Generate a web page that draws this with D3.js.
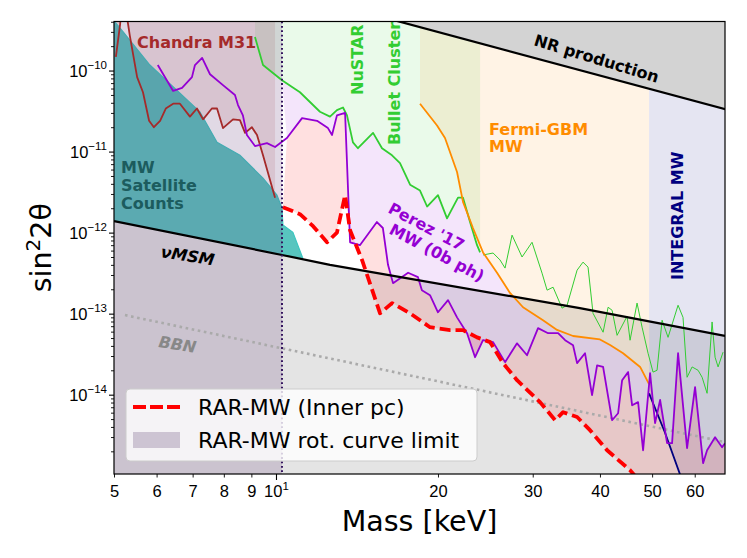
<!DOCTYPE html>
<html>
<head>
	<meta charset="utf-8">
	<title>Sterile neutrino limits</title>
	<style type="text/css">
		body { margin: 0; background: #fff; }
		svg { font-family: 'DejaVu Sans', sans-serif; }
	</style>
	<script src="https://d3js.org/d3.v7.min.js"></script>
</head>
<body>
	<svg width="747" height="558"></svg>
	<script type="text/javascript">
		// ---- data (mass in keV, mixing sin^2 2theta) ----
		var nrMass = [15, 70];
		var nrSin = [5.0e-10, 3.2e-11];

		var nuMsmMass = [5.0, 10.26, 12.6, 36.7, 68.3];
		var nuMsmSin = [1.39e-12, 5.3e-13, 4.0e-13, 1.17e-13, 5.3e-14];

		var bbnMass = [5.24, 68.3];
		var bbnSin = [9.6e-14, 2.6e-15];

		var satMass = [5.0, 5.2, 5.83, 7.22, 7.77, 8.57, 9.46, 10.04, 10.26, 10.30, 10.75, 11.22];
		var satSin = [4.1e-10, 3.0e-10, 1.17e-10, 3.1e-11, 1.3e-11, 9.0e-12, 4.7e-12, 2.9e-12, 2.0e-12, 1.24e-12, 1.01e-12, 4.8e-13];

		var chandraMass = [5.04, 5.13, 5.15, 5.28, 5.35, 5.52, 5.66, 5.81, 5.93, 6.09, 6.24, 6.44, 6.63, 6.92, 7.13, 7.32, 7.60, 7.77, 7.97, 8.32, 8.57, 8.76, 9.02, 9.22, 9.46, 9.96];
		var chandraSin = [1.47e-10, 3.6e-10, 4.8e-10, 4.8e-10, 2.7e-10, 8.3e-11, 5.4e-11, 2.4e-11, 2.0e-11, 2.4e-11, 3.4e-11, 3.9e-11, 3.9e-11, 2.7e-11, 3.4e-11, 2.5e-11, 3.4e-11, 3.4e-11, 1.95e-11, 2.5e-11, 2.45e-11, 1.7e-11, 2.0e-11, 1.6e-11, 9.0e-12, 2.7e-12];

		var bulletMass = [9.14, 9.46, 10.26, 11.08, 12.07, 12.6, 12.98, 13.32, 13.55, 13.9, 14.2, 15.15, 15.74, 16.43, 17.0, 17.75, 18.52, 19.09, 20.0, 20.79, 21.79, 22.26, 22.94, 23.64, 23.95];
		var bulletSin = [2.6e-10, 1.17e-10, 7.6e-11, 5.4e-11, 3.1e-11, 2.7e-11, 3.25e-11, 3.5e-11, 2.8e-11, 1.3e-11, 1.1e-11, 1.7e-11, 1.1e-11, 9.0e-12, 7.2e-12, 3.9e-12, 3.3e-12, 2.1e-12, 2.9e-12, 1.5e-12, 2.7e-12, 2.7e-12, 1.35e-12, 7.0e-13, 5.7e-13];

		var nustarMass = [24.25, 25.32, 26.08, 26.65, 27.46, 28.66, 29.91, 31.22, 31.9, 32.73, 34.01, 34.75, 36.27, 37.2, 38.01, 38.83, 40.54, 41.42, 42.13, 43.04, 44.92, 45.5, 46.88, 47.9, 49.14, 50.2, 51.07, 52.18, 53.53, 55.87, 57.07, 58.07, 59.33, 60.87, 61.93, 63.26, 64.63, 65.46, 66.31, 67.74];
		var nustarSin = [5.3e-13, 5.6e-13, 4.6e-13, 3.65e-13, 9.3e-13, 5.0e-13, 7.6e-13, 3.16e-13, 1.95e-13, 2.12e-13, 1.17e-13, 1.27e-13, 3.44e-13, 4.32e-13, 3.75e-13, 1.01e-13, 5.9e-14, 1.2e-13, 1.1e-13, 5.4e-14, 9.3e-14, 4.7e-14, 1.35e-13, 6.8e-14, 3.25e-14, 1.9e-14, 2.0e-14, 8.3e-14, 5.1e-14, 1.27e-13, 9.0e-14, 1.64e-14, 2.2e-14, 2.0e-14, 1.64e-14, 1.04e-14, 7.9e-14, 2.9e-14, 2.2e-14, 3.35e-14];

		var fermiMass = [18.52, 19.92, 20.61, 21.7, 22.26, 23.23, 24.25, 25.75, 27.22, 28.78, 31.35, 33.29, 35.65, 40.0, 41.77, 44.16, 47.5, 49.35];
		var fermiSin = [3.9e-11, 2.1e-11, 1.47e-11, 5.6e-12, 2.4e-12, 1.14e-12, 5.7e-13, 3.2e-13, 1.8e-13, 1.2e-13, 8.3e-14, 6.3e-14, 5.3e-14, 4.8e-14, 4.1e-14, 3.25e-14, 2.2e-14, 1.35e-14];

		var integralMass = [49.35, 52.8, 57.3];
		var integralSin = [1.04e-14, 3.44e-15, 7.6e-16];

		var perezMass = [6.03, 6.44, 6.69, 6.98, 7.07, 7.29, 7.54, 7.97, 8.39, 8.5, 8.68, 8.83, 9.14, 9.62, 9.96, 10.48, 11.18, 11.92, 12.49, 12.71, 12.98, 13.44, 13.73, 14.32, 15.4, 15.8, 16.15, 16.5, 17.6, 18.36, 18.67, 19.33, 20.0, 20.88, 21.7, 22.65, 23.44, 24.25, 25.32, 26.65, 28.05, 29.28, 30.69, 32.04, 33.44, 34.46, 35.65, 36.27, 37.52, 38.67, 39.51, 40.54, 42.13, 43.23, 43.98, 45.12, 45.9, 47.09, 48.11, 49.57, 50.64, 51.74, 53.31, 54.46, 55.87, 58.07, 60.09, 62.19, 63.26, 65.46, 67.45, 68.3];
		var perezSin = [1.17e-10, 5.6e-11, 6.1e-11, 8.3e-11, 1.17e-10, 1.43e-10, 9.0e-11, 6.6e-11, 5.0e-11, 3.75e-11, 2.8e-11, 1.6e-11, 1.17e-11, 1.27e-11, 1.14e-11, 1.47e-11, 2.59e-11, 2.4e-11, 1.95e-11, 1.6e-11, 2.8e-11, 3.0e-11, 7.6e-13, 7.0e-13, 1.35e-12, 1.14e-12, 4.0e-13, 2.38e-13, 3.2e-13, 2.82e-13, 1.95e-13, 1.69e-13, 1.04e-13, 1.47e-13, 9.0e-14, 5.74e-14, 2.9e-14, 4.71e-14, 4.45e-14, 2.52e-14, 4.3e-14, 3.07e-14, 6.62e-14, 5.74e-14, 5.74e-14, 4.71e-14, 4.08e-14, 2.45e-14, 3.25e-14, 9.9e-15, 2.3e-14, 2.2e-14, 4.84e-15, 5.9e-15, 1.51e-14, 1.9e-14, 7.4e-15, 8.1e-15, 2.06e-15, 1.84e-14, 4.45e-15, 8.6e-15, 2.52e-15, 2.52e-15, 3.25e-14, 2.19e-15, 1.24e-14, 1.43e-15, 2.06e-15, 2.99e-15, 2.25e-15, 2.52e-15];

		var rarMass = [10.3, 11.08, 11.72, 12.44, 12.98, 13.44, 13.73, 14.45, 15.61, 16.43, 17.75, 19.33, 21.06, 22.26, 23.64, 25.0, 26.42, 28.05, 30.95, 33.01, 34.16, 36.27, 38.33, 41.24, 45.5, 46.88];
		var rarSin = [2.06e-12, 1.69e-12, 1.2e-12, 7.6e-13, 1.0e-12, 2.9e-12, 1.07e-12, 4.6e-13, 1.01e-13, 1.35e-13, 1.01e-13, 6.8e-14, 6.26e-14, 6.26e-14, 5.1e-14, 4.45e-14, 2.45e-14, 1.51e-14, 8.1e-15, 4.84e-15, 6.08e-15, 5.3e-15, 3.65e-15, 2.06e-15, 1.17e-15, 9.3e-16];

		// rotation-curve limit on the mass
		var rarRotLimit = 10.26;

		var xTicks = [5, 6, 7, 8, 9, 10, 20, 30, 40, 50, 60];
		var yTicks = [1e-14, 1e-13, 1e-12, 1e-11, 1e-10];
		var yExp = [-14, -13, -12, -11, -10];

		// ---- setup ----
		var svg = d3.select('svg');
		var pL = 114, pR = 725, pT = 21.5, pB = 474;

		var x = d3.scaleLog().domain([5, 68.3]).range([pL, pR]);
		var y = d3.scaleLog().domain([1.05e-15, 4.03e-10]).range([pB, pT]);

		var xHi = x.domain()[1] * 1.1;
		var yLo = y.domain()[0] / 3;
		var yHi = y.domain()[1] * 3;

		function pts(ms, ss) { return ms.map((d, i) => [d, ss[i]]); }
		var line = d3.line().x(d => x(d[0])).y(d => y(d[1]));
		function poly(p) { return line(p) + 'Z'; }

		svg.append('clipPath').attr('id', 'plotclip')
			.append('rect').attr('x', pL).attr('y', pT)
			.attr('width', pR - pL).attr('height', pB - pT);

		var plot = svg.append('g').attr('clip-path', 'url(#plotclip)');

		var nr = pts(nrMass, nrSin);
		var numsm = pts(nuMsmMass, nuMsmSin);
		var bbn = pts(bbnMass, bbnSin);
		var sat = pts(satMass, satSin);
		var chandra = pts(chandraMass, chandraSin);
		var bullet = pts(bulletMass, bulletSin);
		var nustar = pts(nustarMass, nustarSin);
		var fermi = pts(fermiMass, fermiSin);
		var integral = pts(integralMass, integralSin);
		var perez = pts(perezMass, perezSin);
		var rar = pts(rarMass, rarSin);

		// region below nuMSM
		plot.append('path')
			.attr('d', poly(numsm.concat([[numsm[numsm.length - 1][0], yLo], [numsm[0][0], yLo]])))
			.attr('fill', '#e4e4e4');

		// Chandra M31 excluded band
		plot.append('path')
			.attr('d', poly(chandra.concat([[chandraMass[chandraMass.length - 1], yHi], [chandraMass[0], yHi]])))
			.attr('fill', 'rgba(165,42,42,0.12)');

		// Bullet cluster band
		plot.append('path')
			.attr('d', poly(bullet.concat([[bulletMass[bulletMass.length - 1], yHi], [bulletMass[0], yHi]])))
			.attr('fill', 'rgba(50,205,50,0.1)');

		// Fermi-GBM band
		plot.append('path')
			.attr('d', poly(fermi.concat([[fermiMass[fermiMass.length - 1], yHi], [fermiMass[0], yHi]])))
			.attr('fill', 'rgba(255,140,0,0.1)');

		// INTEGRAL band
		plot.append('path')
			.attr('d', poly([[integralMass[0], yHi]].concat(integral, [[xHi, yLo], [xHi, yHi]])))
			.attr('fill', 'rgba(0,0,128,0.1)');

		// Perez '17 band, between its curve and the other limits
		var lastBullet = bulletMass[bulletMass.length - 1];
		var lastFermi = fermiMass[fermiMass.length - 1];
		var perezBand = perez.filter(d => d[0] >= rarRotLimit && d[0] < lastFermi)
			.concat(fermi.filter(d => d[0] > lastBullet).reverse(),
				bullet.filter(d => d[0] >= rarRotLimit).reverse());
		plot.append('path')
			.attr('d', poly(perezBand))
			.attr('fill', 'rgba(148,0,211,0.1)');

		// RAR band between the RAR curve and the Perez curve
		var rarBand = rar.concat([[xHi, yLo]], perez.filter(d => d[0] >= rarMass[0]).reverse());
		plot.append('path')
			.attr('d', poly(rarBand))
			.attr('fill', 'rgba(255,0,0,0.12)');

		// MW satellite counts
		var satBand = sat.concat(numsm.filter(d => d[0] < satMass[satMass.length - 1]).reverse());
		plot.append('path')
			.attr('d', poly(satBand))
			.attr('fill', 'rgba(32,178,170,0.75)');
		plot.append('path')
			.attr('d', line(sat))
			.attr('fill', 'none').attr('stroke', '#3cc6c0').attr('stroke-width', 1.2);

		// NR production
		plot.append('path')
			.attr('d', poly(nr.concat([[nrMass[1], yHi], [nrMass[0], yHi]])))
			.attr('fill', '#d3d3d3');

		// RAR rotation curve limit
		plot.append('rect')
			.attr('x', x(x.domain()[0])).attr('y', pT)
			.attr('width', x(rarRotLimit) - x(x.domain()[0]))
			.attr('height', pB - pT)
			.attr('fill', 'rgba(103,63,123,0.2)');

		// lines
		function drawLine(p, col, w, dash) {
			var l = plot.append('path')
				.attr('d', line(p))
				.attr('fill', 'none')
				.attr('stroke', col)
				.attr('stroke-width', w)
				.attr('stroke-linejoin', 'round');
			if (dash) l.attr('stroke-dasharray', dash);
			return l;
		}
		drawLine(bbn, '#aaaaaa', 2.6, '2.6,3.6');
		drawLine(chandra, '#a52a2a', 1.8);
		drawLine(nustar, '#32cd32', 1);
		drawLine(bullet, '#32cd32', 1.8);
		drawLine(fermi, '#ff8c00', 1.8);
		drawLine(integral, '#000080', 1.8);
		drawLine(perez, '#9400d3', 1.8);
		drawLine(nr, '#000', 2.2);
		drawLine(numsm, '#000', 2.2);
		drawLine(rar, '#ff0000', 3.8, '11,5');

		plot.append('line')
			.attr('x1', x(rarRotLimit)).attr('x2', x(rarRotLimit))
			.attr('y1', pT).attr('y2', pB)
			.attr('stroke', '#33135e').attr('stroke-width', 2)
			.attr('stroke-dasharray', '1.8,2.6');

		// region labels
		function label(txt, tx, ty, col, rot, extra) {
			var t = svg.append('text')
				.attr('transform', 'translate(' + tx + ',' + ty + ') rotate(' + rot + ')')
				.attr('font-size', '16px')
				.attr('font-weight', 'bold')
				.attr('fill', col)
				.text(txt);
			if (extra) t.attr('font-style', extra);
			return t;
		}
		label('Chandra M31', 137, 48, '#a52a2a', 0);
		label('MW', 121, 173, '#1c5c5e', 0);
		label('Satellite', 121, 191, '#1c5c5e', 0);
		label('Counts', 121, 209, '#1c5c5e', 0);
		label('NuSTAR', 363, 95, '#32cd32', -90);
		label('Bullet Cluster', 400, 145, '#32cd32', -90);
		label('Fermi-GBM', 489, 135, '#ff8c00', 0);
		label('MW', 489, 152, '#ff8c00', 0);
		label('INTEGRAL MW', 683, 280, '#000080', -90);
		label("Perez '17", 387, 212, '#9400d3', 28);
		label('MW (0b ph)', 388, 233, '#9400d3', 28);
		label('NR production', 533, 45, '#000', 17);
		label('\u03bdMSM', 160, 257, '#000', 9, 'italic');
		label('BBN', 158, 347, '#888888', 9, 'italic');

		// axes
		var xAxis = svg.append('g')
			.attr('transform', 'translate(0,' + pB + ')')
			.call(d3.axisBottom(x).tickValues(xTicks)
				.tickSize(0).tickPadding(0).tickFormat(''));
		xAxis.select('.domain').remove();
		xAxis.selectAll('.tick').each(function (d) {
			var g = d3.select(this);
			g.append('line').attr('y2', d === 10 ? 6 : 3.5).attr('stroke', '#000').attr('stroke-width', d === 10 ? 1.1 : 0.9);
			var t = g.append('text').attr('y', 22.5).attr('fill', '#000')
				.attr('font-size', '16.5px').attr('text-anchor', 'middle');
			if (d === 10) {
				t.append('tspan').text('10');
				t.append('tspan').attr('dy', -6.5).attr('font-size', '11.5px').text('1');
			} else {
				t.text(d);
			}
		});

		var yMinor = [];
		d3.range(-15, -9).forEach(function (k) {
			d3.range(2, 10).forEach(function (mm) {
				var v = mm * Math.pow(10, k);
				if (v > y.domain()[0] && v < y.domain()[1]) yMinor.push(v);
			});
		});
		var yMinorAxis = svg.append('g')
			.attr('transform', 'translate(' + pL + ',0)')
			.call(d3.axisLeft(y).tickValues(yMinor).tickSize(3).tickFormat(''));
		yMinorAxis.select('.domain').remove();
		yMinorAxis.selectAll('line').attr('stroke-width', 0.9);

		var yAxis = svg.append('g')
			.attr('transform', 'translate(' + pL + ',0)')
			.call(d3.axisLeft(y).tickValues(yTicks).tickSize(5).tickFormat(''));
		yAxis.select('.domain').remove();
		yAxis.selectAll('line').attr('stroke-width', 1.1);
		yAxis.selectAll('.tick').each(function (d, i) {
			var t = d3.select(this).append('text')
				.attr('x', -7).attr('y', 5.5).attr('fill', '#000')
				.attr('font-size', '16.5px').attr('text-anchor', 'end');
			t.append('tspan').text('10');
			t.append('tspan').attr('dy', -7.5).attr('font-size', '11.5px').text('\u2212' + (-yExp[i]));
		});

		svg.append('rect')
			.attr('x', pL).attr('y', pT)
			.attr('width', pR - pL).attr('height', pB - pT)
			.attr('fill', 'none').attr('stroke', '#000').attr('stroke-width', 1.2);

		svg.append('text')
			.attr('x', (pL + pR) / 2).attr('y', 531)
			.attr('text-anchor', 'middle').attr('font-size', '28.5px')
			.text('Mass [keV]');

		var yl = svg.append('text')
			.attr('transform', 'translate(51,' + ((pT + pB) / 2) + ') rotate(-90)')
			.attr('text-anchor', 'middle').attr('font-size', '28.5px');
		yl.append('tspan').text('sin');
		yl.append('tspan').attr('dy', -11).attr('font-size', '20px').text('2');
		yl.append('tspan').attr('dy', 11).text('2\u03b8');

		// legend
		var leg = svg.append('g');
		leg.append('rect')
			.attr('x', 126).attr('y', 389).attr('width', 351).attr('height', 72)
			.attr('rx', 4).attr('fill', 'rgba(255,255,255,0.8)')
			.attr('stroke', '#cccccc').attr('stroke-width', 1);
		leg.append('line')
			.attr('x1', 133).attr('x2', 180).attr('y1', 407).attr('y2', 407)
			.attr('stroke', '#ff0000').attr('stroke-width', 3.8)
			.attr('stroke-dasharray', '13,4');
		leg.append('text').attr('x', 198).attr('y', 415)
			.attr('font-size', '22px').text('RAR-MW (Inner pc)');
		leg.append('rect')
			.attr('x', 133).attr('y', 432).attr('width', 47).attr('height', 16)
			.attr('fill', '#cdc4d3');
		leg.append('text').attr('x', 198).attr('y', 448)
			.attr('font-size', '22px').text('RAR-MW rot. curve limit');
	</script>
</body>
</html>
